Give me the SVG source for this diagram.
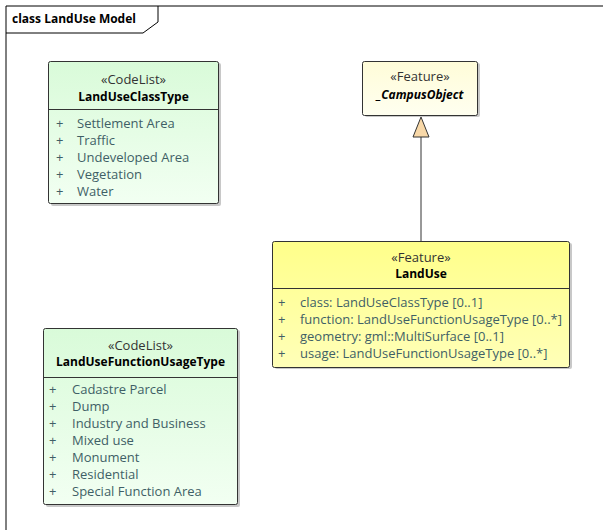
<svg xmlns="http://www.w3.org/2000/svg" width="603" height="530" viewBox="0 0 603 530">
<defs>
<linearGradient id="gGreen" x1="0" y1="0" x2="0" y2="1"><stop offset="0" stop-color="#d9fbd9"/><stop offset="1" stop-color="#f2fff2"/></linearGradient>
<linearGradient id="gYellow" x1="0" y1="0" x2="0" y2="1"><stop offset="0" stop-color="#ffff8a"/><stop offset="1" stop-color="#ffffb8"/></linearGradient>
<linearGradient id="gLight" x1="0" y1="0" x2="0" y2="1"><stop offset="0" stop-color="#fffcd8"/><stop offset="1" stop-color="#fffff0"/></linearGradient>
</defs>
<style>
.box{stroke:#333;stroke-width:1}
.sh{fill:#c8c8c8}
.div{stroke:#333;stroke-width:1}
text{font-family:"Open Sans","Noto Sans",sans-serif;font-size:13px}
.st{fill:#333;text-anchor:middle}
.nm{fill:#000;font-weight:bold;font-size:12px;text-anchor:middle}
.it{fill:#3f5f66}
.pl{fill:#3f5f66}
</style>
<rect width="603" height="530" fill="#fff"/>
<g id="frame">
<path d="M6,530 V6 H603" fill="none" stroke="#000" stroke-width="1"/>
<path d="M6,33 H143 L158,22 V6" fill="none" stroke="#000" stroke-width="1"/>
<text x="12" y="23" style="font-weight:bold;font-size:12px" fill="#000">class LandUse Model</text>
</g>
<g id="connectors">
<line x1="421" y1="137" x2="421" y2="241" stroke="#333" stroke-width="1"/>
<polygon points="421,117 413,137 429,137" fill="#f8d8a8" stroke="#333" stroke-width="1"/>
</g>
<g id="LandUseClassType">
<rect x="51" y="63" width="170" height="143" rx="2" class="sh"/>
<rect x="48.5" y="61.5" width="170" height="142" rx="2" class="box" fill="url(#gGreen)"/>
<line x1="48.5" y1="109.5" x2="218.5" y2="109.5" class="div"/>
<text x="133.5" y="84" class="st">«CodeList»</text>
<text x="133.5" y="101" class="nm">LandUseClassType</text>
<text x="56" y="128" class="pl">+</text><text x="77" y="128" class="it">Settlement Area</text>
<text x="56" y="145" class="pl">+</text><text x="77" y="145" class="it">Traffic</text>
<text x="56" y="162" class="pl">+</text><text x="77" y="162" class="it">Undeveloped Area</text>
<text x="56" y="179" class="pl">+</text><text x="77" y="179" class="it">Vegetation</text>
<text x="56" y="196" class="pl">+</text><text x="77" y="196" class="it">Water</text>
</g>
<g id="CampusObject">
<rect x="365" y="63" width="115" height="54" rx="2" class="sh"/>
<rect x="362.5" y="61.5" width="115" height="54" rx="2" class="box" fill="url(#gLight)"/>
<text x="420" y="81" class="st">«Feature»</text>
<text x="420" y="99" class="nm" font-style="italic">_CampusObject</text>
</g>
<g id="LandUse">
<rect x="275" y="243" width="297" height="126" rx="2" class="sh"/>
<rect x="272.5" y="241.5" width="297" height="126" rx="2" class="box" fill="url(#gYellow)"/>
<line x1="272.5" y1="288.5" x2="569.5" y2="288.5" class="div"/>
<text x="421" y="262" class="st">«Feature»</text>
<text x="421" y="278" class="nm">LandUse</text>
<text x="278" y="307" class="pl">+</text><text x="300" y="307" class="it">class: LandUseClassType [0..1]</text>
<text x="278" y="324" class="pl">+</text><text x="300" y="324" class="it">function: LandUseFunctionUsageType [0..*]</text>
<text x="278" y="341" class="pl">+</text><text x="300" y="341" class="it">geometry: gml::MultiSurface [0..1]</text>
<text x="278" y="358" class="pl">+</text><text x="300" y="358" class="it">usage: LandUseFunctionUsageType [0..*]</text>
</g>
<g id="LandUseFunctionUsageType">
<rect x="46" y="330" width="194" height="177" rx="2" class="sh"/>
<rect x="43.5" y="328.5" width="194" height="176" rx="2" class="box" fill="url(#gGreen)"/>
<line x1="43.5" y1="377.5" x2="237.5" y2="377.5" class="div"/>
<text x="140.5" y="350" class="st">«CodeList»</text>
<text x="140.5" y="366" class="nm">LandUseFunctionUsageType</text>
<text x="49" y="394" class="pl">+</text><text x="72" y="394" class="it">Cadastre Parcel</text>
<text x="49" y="411" class="pl">+</text><text x="72" y="411" class="it">Dump</text>
<text x="49" y="428" class="pl">+</text><text x="72" y="428" class="it">Industry and Business</text>
<text x="49" y="445" class="pl">+</text><text x="72" y="445" class="it">Mixed use</text>
<text x="49" y="462" class="pl">+</text><text x="72" y="462" class="it">Monument</text>
<text x="49" y="479" class="pl">+</text><text x="72" y="479" class="it">Residential</text>
<text x="49" y="496" class="pl">+</text><text x="72" y="496" class="it">Special Function Area</text>
</g>
</svg>
